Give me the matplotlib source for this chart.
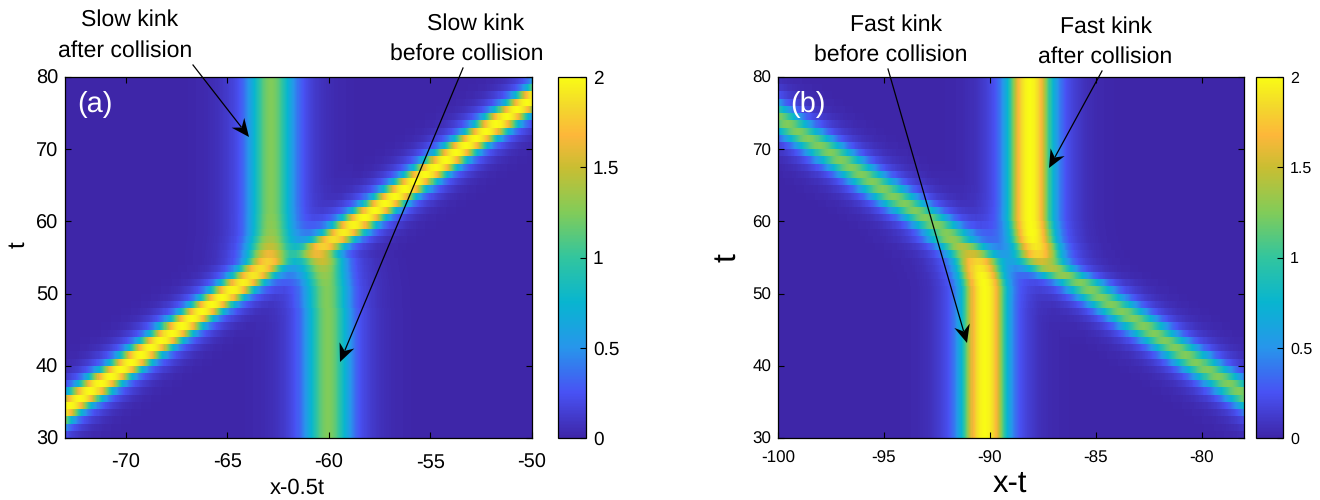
import numpy as np
import matplotlib
matplotlib.use('Agg')
import matplotlib.pyplot as plt
from matplotlib.colors import LinearSegmentedColormap
from matplotlib.patches import Polygon

plt.rcParams['font.family'] = ['Liberation Sans', 'DejaVu Sans']
plt.rcParams['axes.unicode_minus'] = False
plt.rcParams['text.hinting'] = 'no_hinting'
plt.rcParams['text.hinting_factor'] = 1

W, H = 1320, 500

# filas de t (cada fila cubre de t a t+1)
t_edges = list(range(30, 81))

a_left_x = [-74.75, -74.25, -73.75, -73.25, -72.75, -72.25, -71.75, -71.25, -70.75, -70.25,
            -69.75, -69.25, -68.75, -68.25, -67.75, -67.25, -66.75, -66.25, -65.75, -65.25,
            -64.75, -64.25, -63.75, -63.4, -63.05, -63.0, -62.95, -62.9, -62.85, -62.85,
            -62.85, -62.85, -62.85, -62.85, -62.85, -62.85, -62.85, -62.85, -62.85, -62.85,
            -62.85, -62.85, -62.85, -62.85, -62.85, -62.85, -62.85, -62.85, -62.85, -62.85]
a_left_peak = [2.0, 2.0, 2.0, 2.0, 2.0, 2.0, 2.0, 2.0, 2.0, 2.0,
               2.0, 2.0, 2.0, 2.0, 2.0, 2.0, 2.0, 2.0, 2.0, 2.0,
               1.98, 1.95, 1.9, 1.85, 1.75, 1.55, 1.42, 1.35, 1.3, 1.28,
               1.27, 1.25, 1.25, 1.25, 1.25, 1.25, 1.25, 1.25, 1.25, 1.25,
               1.25, 1.25, 1.25, 1.25, 1.25, 1.25, 1.25, 1.25, 1.25, 1.25]
a_right_x = [-60.05, -60.05, -60.05, -60.05, -60.05, -60.05, -60.05, -60.05, -60.05, -60.05,
             -60.05, -60.05, -60.05, -60.05, -60.05, -60.05, -60.05, -60.05, -60.1, -60.1,
             -60.1, -60.15, -60.2, -60.25, -60.3, -60.5, -60.25, -59.75, -59.25, -58.75,
             -58.25, -57.75, -57.25, -56.75, -56.25, -55.75, -55.25, -54.75, -54.25, -53.75,
             -53.25, -52.75, -52.25, -51.75, -51.25, -50.75, -50.25, -49.75, -49.15, -48.75]
a_right_peak = [1.25, 1.25, 1.25, 1.25, 1.25, 1.25, 1.25, 1.25, 1.25, 1.25,
                1.25, 1.25, 1.25, 1.25, 1.25, 1.25, 1.25, 1.25, 1.25, 1.25,
                1.25, 1.27, 1.3, 1.35, 1.45, 1.55, 1.75, 1.85, 1.93, 1.97,
                2.0, 2.0, 2.0, 2.0, 2.0, 2.0, 2.0, 2.0, 2.0, 2.0,
                2.0, 2.0, 2.0, 2.0, 2.0, 2.0, 2.0, 2.0, 2.0, 2.0]

# --- panel (b) ---
b_left_x = [-90.25, -90.25, -90.25, -90.25, -90.25, -90.25, -90.25, -90.25, -90.25, -90.25,
            -90.25, -90.25, -90.25, -90.25, -90.25, -90.25, -90.25, -90.25, -90.25, -90.25,
            -90.25, -90.3, -90.4, -90.5, -90.6, -90.9, -91.3, -91.8, -92.05, -92.55,
            -93.05, -93.55, -94.05, -94.55, -95.05, -95.55, -96.05, -96.55, -97.05, -97.55,
            -98.05, -98.55, -99.05, -99.55, -100.05, -100.55, -101.05, -101.55, -102.05, -102.55]
b_left_peak = [2.0, 2.0, 2.0, 2.0, 2.0, 2.0, 2.0, 2.0, 2.0, 2.0,
               2.0, 2.0, 2.0, 2.0, 2.0, 2.0, 2.0, 2.0, 2.0, 2.0,
               2.0, 2.0, 1.97, 1.9, 1.8, 1.5, 1.4, 1.3, 1.25, 1.25,
               1.25, 1.25, 1.25, 1.25, 1.25, 1.25, 1.25, 1.25, 1.25, 1.25,
               1.25, 1.25, 1.25, 1.25, 1.25, 1.25, 1.25, 1.25, 1.25, 1.25]
b_right_x = [-75.25, -75.75, -76.25, -76.75, -77.25, -77.75, -78.25, -78.75, -79.25, -79.75,
             -80.25, -80.75, -81.25, -81.75, -82.25, -82.75, -83.25, -83.75, -84.25, -84.75,
             -85.25, -85.75, -86.5, -87.1, -87.5, -87.7, -87.8, -87.95, -88.0, -88.05,
             -88.1, -88.1, -88.1, -88.1, -88.1, -88.1, -88.1, -88.1, -88.1, -88.1,
             -88.1, -88.1, -88.1, -88.1, -88.1, -88.1, -88.1, -88.1, -88.1, -88.1]
b_right_peak = [1.25, 1.25, 1.25, 1.25, 1.25, 1.25, 1.25, 1.25, 1.25, 1.25,
                1.25, 1.25, 1.25, 1.25, 1.25, 1.25, 1.25, 1.25, 1.25, 1.25,
                1.25, 1.25, 1.3, 1.4, 1.5, 1.8, 1.9, 1.97, 2.0, 2.0,
                2.0, 2.0, 2.0, 2.0, 2.0, 2.0, 2.0, 2.0, 2.0, 2.0,
                2.0, 2.0, 2.0, 2.0, 2.0, 2.0, 2.0, 2.0, 2.0, 2.0]

# forma transversal del kink (fraccion del pico segun distancia)
perfil_dist = [0.0, 0.2, 0.4, 0.63, 0.9, 1.1, 1.4, 1.7, 2.1, 2.6, 3.2, 4.5]
perfil_alto = [1.0, 0.98, 0.92, 0.78, 0.52, 0.35, 0.2, 0.12, 0.07, 0.03, 0.01, 0.0]
perfil_bajo = [1.0, 0.97, 0.89, 0.74, 0.55, 0.42, 0.26, 0.17, 0.1, 0.05, 0.02, 0.0]

# parula, que es el mapa que se ve en la barra
parula = ['#3E26A8', '#4852F4', '#2796EB', '#08B5D0', '#32C59E', '#81CC59', '#C9BE32', '#FDB73A', '#F3D82C', '#F9FB15']
pos = [0, 0.125, 0.25, 0.375, 0.5, 0.625, 0.75, 0.84, 0.92, 1]
cmap = LinearSegmentedColormap.from_list('parula', list(zip(pos, parula)), N=256)


def kink(x, centro, pico):
    # mezcla de perfil estrecho (pico 2) y ancho (pico 1.25)
    d = np.abs(x - centro)
    peso = np.clip((pico - 1.25) / 0.75, 0, 1)
    f = peso * np.interp(d, perfil_dist, perfil_alto) + (1 - peso) * np.interp(d, perfil_dist, perfil_bajo)
    return pico * f


def campo(x_edges, lx, lp, rx, rp):
    x = 0.5 * (x_edges[:-1] + x_edges[1:])
    return np.array([kink(x, lx[i], lp[i]) + kink(x, rx[i], rp[i]) for i in range(len(lx))])


def caja(px0, px1, py0=77, py1=438):
    return [px0 / W, 1 - py1 / H, (px1 - px0) / W, (py1 - py0) / H]


def texto(px, py, s, **kw):
    fig.text(px / W, 1 - py / H, s, ha='center', va='center', **kw)


def flecha(p0, p1):
    # linea fina con punta negra en forma de flecha
    a = np.array([p0[0], H - p0[1]], dtype=float)
    b = np.array([p1[0], H - p1[1]], dtype=float)
    u = (b - a) / np.linalg.norm(b - a)
    n = np.array([-u[1], u[0]])
    punta = [b, b - 18 * u + 8 * n, b - 12 * u, b - 18 * u - 8 * n]
    punta = [(q[0] / W, q[1] / H) for q in punta]
    fin = b - 13 * u
    fig.add_artist(plt.Line2D([a[0] / W, fin[0] / W], [a[1] / H, fin[1] / H], color='black', lw=0.9))
    fig.add_artist(Polygon(punta, closed=True, facecolor='black', edgecolor='none', transform=fig.transFigure))


def panel(box, cbox, xlim, xticks, Z, n, sz, sz_bar, pad_x):
    ax = fig.add_axes(caja(*box))
    x_edges = np.linspace(xlim[0], xlim[1], n + 1)
    m = ax.pcolormesh(x_edges, t_edges, Z(x_edges), cmap=cmap, vmin=0, vmax=2, shading='flat')
    ax.set_xlim(xlim)
    ax.set_ylim(30, 80)
    ax.set_xticks(xticks)
    ax.set_yticks([30, 40, 50, 60, 70, 80])
    ax.tick_params(direction='in', top=True, right=True, length=4.5, width=0.8, labelsize=sz)
    ax.tick_params(axis='x', pad=pad_x)
    ax.tick_params(axis='y', pad=5)
    for s in ax.spines.values():
        s.set_linewidth(0.9)
    cax = fig.add_axes(caja(*cbox))
    cb = fig.colorbar(m, cax=cax)
    cb.set_ticks([0, 0.5, 1, 1.5, 2])
    cb.set_ticklabels(['0', '0.5', '1', '1.5', '2'])
    cax.tick_params(direction='in', length=4, width=0.8, labelsize=sz_bar, pad=5)
    cb.outline.set_linewidth(0.9)
    return ax


fig = plt.figure(figsize=(W / 100, H / 100), dpi=100)

panel((65, 532), (558, 586), (-73, -50), [-70, -65, -60, -55, -50],
      lambda e: campo(e, a_left_x, a_left_peak, a_right_x, a_right_peak), 460, 14.5, 13.5, 11)
panel((778, 1244), (1256, 1283), (-100, -78), [-100, -95, -90, -85, -80],
      lambda e: campo(e, b_left_x, b_left_peak, b_right_x, b_right_peak), 460, 12.5, 11.5, 9)

# etiquetas de ejes
texto(297, 488, 'x-0.5t', fontsize=16)
texto(18, 245, 't', fontsize=17, rotation=90)
texto(1010, 484, 'x-t', fontsize=22)
texto(727, 258, 't', fontsize=23, rotation=90)

# letras de panel
texto(95, 105, '(a)', fontsize=21, color='white')
texto(808, 104, '(b)', fontsize=21, color='white')

# anotaciones
texto(130, 20, 'Slow kink', fontsize=16.5)
texto(125, 51, 'after collision', fontsize=16.5)
texto(476, 24, 'Slow kink', fontsize=16.5)
texto(467, 54, 'before collision', fontsize=16.5)
texto(896, 25, 'Fast kink', fontsize=16.5)
texto(891, 55, 'before collision', fontsize=16.5)
texto(1106, 27, 'Fast kink', fontsize=16.5)
texto(1105, 57, 'after collision', fontsize=16.5)

flecha((193, 65), (249, 137))
flecha((463, 68), (340, 362))
flecha((888, 69), (967, 343))
flecha((1102, 71), (1049, 168))

plt.savefig('out.png', dpi=100)
